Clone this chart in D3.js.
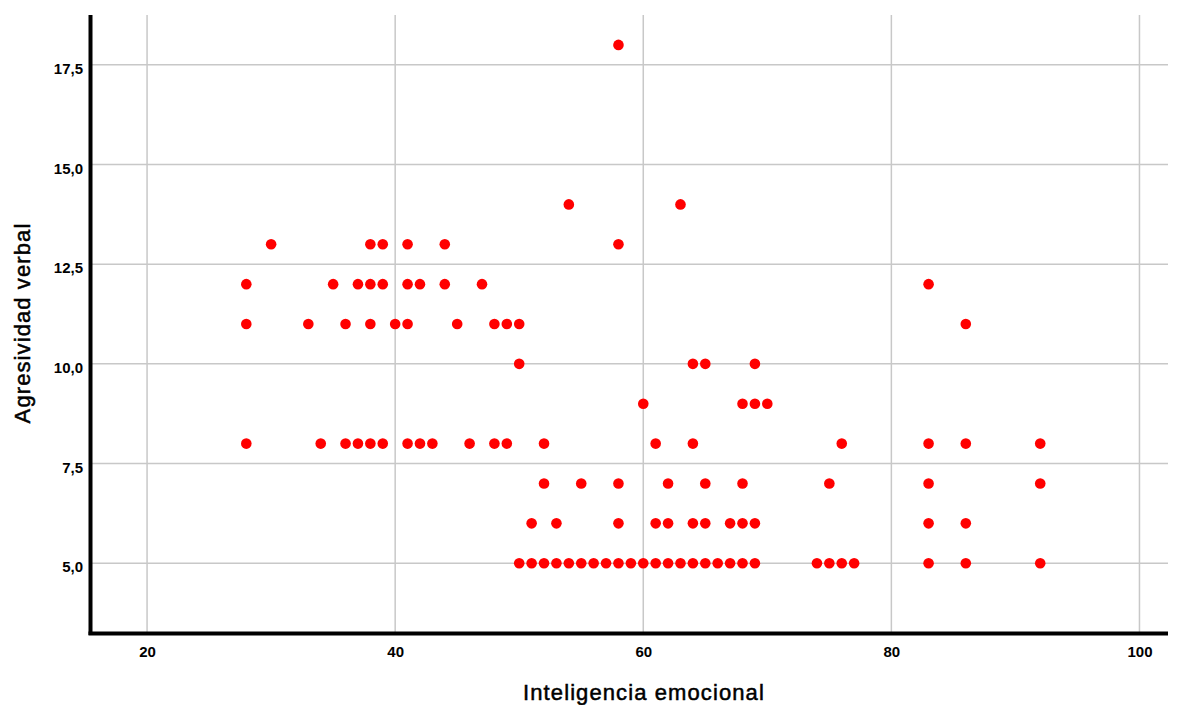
<!DOCTYPE html>
<html><head><meta charset="utf-8">
<script src="https://cdn.jsdelivr.net/npm/d3@7"></script>
<style>
html,body{margin:0;padding:0;background:#fff;}
text{font-family:"Liberation Sans",Arial,sans-serif;}
</style></head>
<body><svg id="c" width="1180" height="705"></svg>
<script>
// Inteligencia emocional (x) and Agresividad verbal (y)
const emotionalIntelligence = [
  58,
  54,63,
  30,38,39,41,44,58,
  28,35,37,38,39,41,42,44,47,83,
  28,33,36,38,40,41,45,48,49,50,86,
  50,64,65,69,
  60,68,69,70,
  28,34,36,37,38,39,41,42,43,46,48,49,52,61,64,76,83,86,92,
  52,55,58,62,65,68,75,83,92,
  51,53,58,61,62,64,65,67,68,69,83,86,
  50,51,52,53,54,55,56,57,58,59,60,61,62,63,64,65,66,67,68,69,74,75,76,77,83,86,92
];
const verbalAggression = [
  18,
  14,14,
  13,13,13,13,13,13,
  12,12,12,12,12,12,12,12,12,12,
  11,11,11,11,11,11,11,11,11,11,11,
  10,10,10,10,
  9,9,9,9,
  8,8,8,8,8,8,8,8,8,8,8,8,8,8,8,8,8,8,8,
  7,7,7,7,7,7,7,7,7,
  6,6,6,6,6,6,6,6,6,6,6,6,
  5,5,5,5,5,5,5,5,5,5,5,5,5,5,5,5,5,5,5,5,5,5,5,5,5,5,5
];
const xTicks = [20,40,60,80,100];
const yTicks = [5,7.5,10,12.5,15,17.5];
const xTitle = "Inteligencia emocional";
const yTitle = "Agresividad verbal";

const points = emotionalIntelligence.map((v,i)=>({x:v,y:verbalAggression[i]}));
const svg = d3.select("#c");
const L=90,R=1168,T=15,B=633;
const x = d3.scaleLinear().domain([15.4,102.3]).range([L,R]);
const y = d3.scaleLinear().domain([3.25,18.75]).range([B,T]);

// grid
svg.append("g").selectAll("line").data(xTicks).join("line")
  .attr("x1",d=>x(d)).attr("x2",d=>x(d)).attr("y1",T).attr("y2",B)
  .attr("stroke","#c8c8c8").attr("stroke-width",1.5);
svg.append("g").selectAll("line").data(yTicks).join("line")
  .attr("x1",L).attr("x2",R).attr("y1",d=>y(d)).attr("y2",d=>y(d))
  .attr("stroke","#c8c8c8").attr("stroke-width",1.5);

// points
svg.append("g").selectAll("circle").data(points).join("circle")
  .attr("cx",d=>x(d.x)).attr("cy",d=>y(d.y)).attr("r",5.3).attr("fill","#ff0000");

// axes
const fmt = d3.formatLocale({decimal:",",thousands:".",grouping:[3],currency:["","€"]});
const xAxis = d3.axisBottom(x).tickValues(xTicks).tickSize(0).tickFormat(d3.format("d"));
const yAxis = d3.axisLeft(y).tickValues(yTicks).tickSize(0).tickFormat(fmt.format(".1f"));
const gx = svg.append("g").attr("transform",`translate(0,${B})`).call(xAxis);
const gy = svg.append("g").attr("transform",`translate(${L},0)`).call(yAxis);
[gx,gy].forEach(g=>{
  g.select(".domain").remove();
  g.selectAll("text").attr("font-size",15).attr("font-weight","bold")
    .attr("fill","#000").attr("font-family","'Liberation Sans',Arial,sans-serif");
});
gx.selectAll("text").attr("y",24).attr("dy",0);
gy.selectAll("text").attr("x",-7).attr("dy","8.5px");

svg.append("line").attr("x1",L+0.5).attr("x2",L+0.5).attr("y1",T).attr("y2",B+2)
  .attr("stroke","#000").attr("stroke-width",4);
svg.append("line").attr("x1",L-1.5).attr("x2",R).attr("y1",B+0.5).attr("y2",B+0.5)
  .attr("stroke","#000").attr("stroke-width",4);

// titles
svg.append("text").attr("x",644).attr("y",700).attr("text-anchor","middle")
  .attr("font-size",22).attr("letter-spacing","1.1px").attr("fill","#000")
  .attr("stroke","#000").attr("stroke-width",0.5).text(xTitle);
svg.append("text").attr("transform","translate(30,323) rotate(-90)").attr("text-anchor","middle")
  .attr("font-size",22).attr("letter-spacing","1.1px").attr("fill","#000")
  .attr("stroke","#000").attr("stroke-width",0.5).text(yTitle);
</script></body></html>
